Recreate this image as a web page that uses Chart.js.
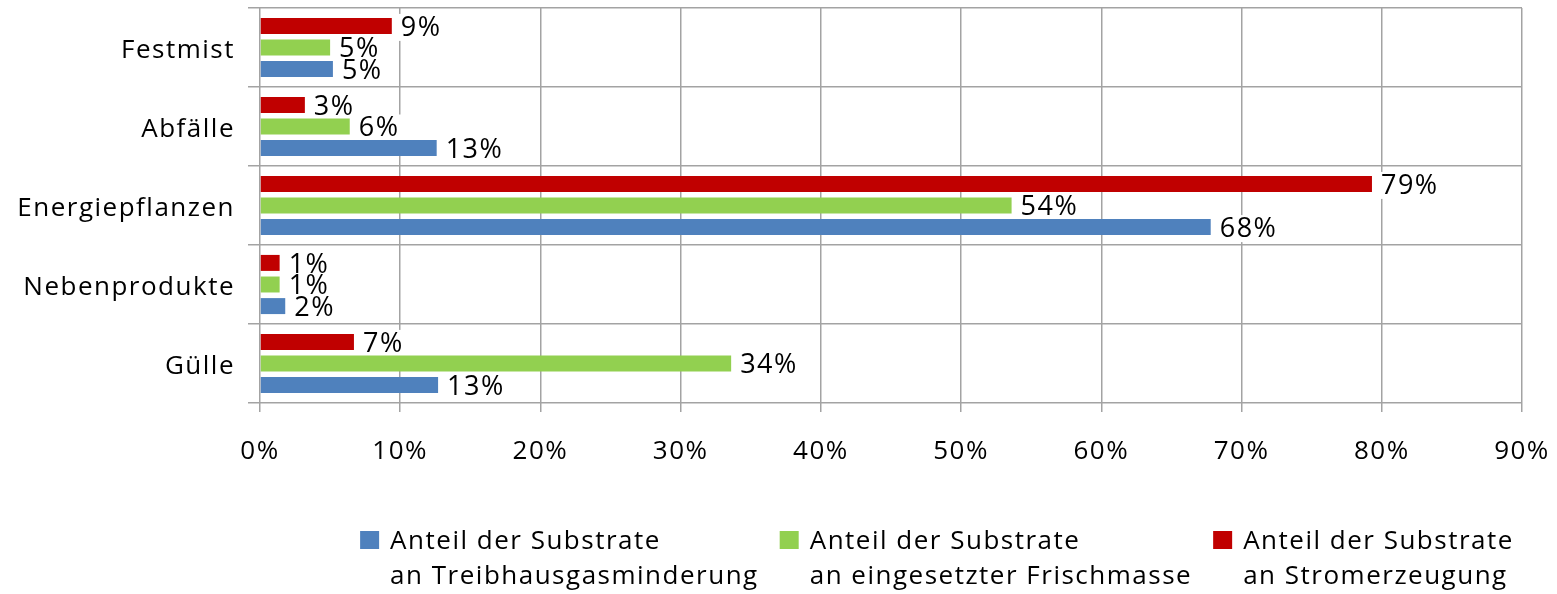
<!DOCTYPE html>
<html>
<head>
    <meta charset="utf-8">
    <title>Substrate Anteile</title>
    <script src="https://cdn.jsdelivr.net/npm/chart.js@4.4.1/dist/chart.umd.min.js"></script>
    <style>
        html, body {
            margin: 0;
            padding: 0;
            background: white;
        }
        .chart-wrapper {
            position: relative;
            width: 1557px;
            height: 594px;
        }
    </style>
</head>
<body>
    <div class="chart-wrapper">
        <canvas id="substrateChart"></canvas>
    </div>

    <script>
        // Categories, top to bottom
        const categories = ['Festmist', 'Abfälle', 'Energiepflanzen', 'Nebenprodukte', 'Gülle'];

        // Series values in percent
        const thgValues = [5.2, 12.6, 67.8, 1.8, 12.7];       // Treibhausgasminderung
        const frischValues = [5.0, 6.4, 53.6, 1.4, 33.6];     // eingesetzte Frischmasse
        const stromValues = [9.4, 3.2, 79.3, 1.4, 6.7];       // Stromerzeugung

        const seriesNames = [
            ['Anteil der Substrate', 'an Treibhausgasminderung'],
            ['Anteil der Substrate', 'an eingesetzter Frischmasse'],
            ['Anteil der Substrate', 'an Stromerzeugung']
        ];
        const seriesColors = ['#4F81BD', '#92D050', '#C00000'];

        const xMax = 90;
        const xStep = 10;

        const fontFamily = "'Open Sans', sans-serif";
        const fontSize = 26;
        const labelFont = '27px ' + fontFamily;
        const gridColor = '#a3a3a3';

        // slightly wider text, the original looks stretched
        const spacingPlugin = {
            id: 'spacing',
            beforeUpdate(chart) { chart.ctx.letterSpacing = '1.5px'; },
            beforeDraw(chart) { chart.ctx.letterSpacing = '1.5px'; }
        };

        function eachLabel(chart, fn) {
            chart.data.datasets.forEach((ds, i) => {
                chart.getDatasetMeta(i).data.forEach((bar, j) => {
                    fn(bar, Math.round(ds.data[j]) + '%');
                });
            });
        }

        // value labels: white box under the bars (hides grid), text on top
        const valueLabels = {
            id: 'valueLabels',
            beforeDatasetsDraw(chart) {
                const ctx = chart.ctx;
                ctx.save();
                ctx.font = labelFont;
                ctx.fillStyle = 'white';
                eachLabel(chart, (bar, text) => {
                    const w = ctx.measureText(text).width;
                    ctx.fillRect(bar.x + 5, bar.y - 12, w + 6, 27);
                });
                ctx.restore();
            },
            afterDatasetsDraw(chart) {
                const ctx = chart.ctx;
                ctx.save();
                ctx.font = labelFont;
                ctx.textBaseline = 'middle';
                ctx.textAlign = 'left';
                ctx.fillStyle = '#000';
                eachLabel(chart, (bar, text) => {
                    ctx.fillText(text, bar.x + 9, bar.y + 2);
                });
                ctx.restore();
            }
        };

        // legend below the chart, two lines per entry
        const bottomLegend = {
            id: 'bottomLegend',
            afterDraw(chart) {
                const ctx = chart.ctx;
                ctx.save();
                ctx.font = fontSize + 'px ' + fontFamily;
                ctx.textBaseline = 'middle';
                ctx.textAlign = 'left';
                const boxSize = 19;
                const boxGap = 11;
                const itemGap = 21;
                const widths = seriesNames.map(lines =>
                    Math.max(...lines.map(l => ctx.measureText(l).width)));
                const total = widths.reduce((a, b) => a + b, 0) + 3 * (boxSize + boxGap) + 2 * itemGap;
                let x = 937 - total / 2;
                const y1 = 542;
                const y2 = 577;
                seriesNames.forEach((lines, i) => {
                    ctx.fillStyle = seriesColors[i];
                    ctx.fillRect(x, y1 - 11, boxSize, 18);
                    ctx.fillStyle = '#000';
                    ctx.fillText(lines[0], x + boxSize + boxGap, y1);
                    ctx.fillText(lines[1], x + boxSize + boxGap, y2);
                    x += boxSize + boxGap + widths[i] + itemGap;
                });
                ctx.restore();
            }
        };

        new Chart(document.getElementById('substrateChart'), {
            type: 'bar',
            data: {
                labels: categories,
                datasets: [
                    { label: seriesNames[2].join(' '), data: stromValues, backgroundColor: seriesColors[2] },
                    { label: seriesNames[1].join(' '), data: frischValues, backgroundColor: seriesColors[1] },
                    { label: seriesNames[0].join(' '), data: thgValues, backgroundColor: seriesColors[0] }
                ]
            },
            options: {
                indexAxis: 'y',
                responsive: true,
                maintainAspectRatio: false,
                animation: false,
                categoryPercentage: 0.82,
                barPercentage: 0.74,
                layout: {
                    padding: { top: 8, right: 35, bottom: 121, left: 0 }
                },
                scales: {
                    x: {
                        min: 0,
                        max: xMax,
                        ticks: {
                            stepSize: xStep,
                            padding: 24,
                            color: '#000',
                            font: { family: fontFamily, size: fontSize },
                            callback: v => v + '%'
                        },
                        grid: {
                            color: gridColor,
                            lineWidth: 1.5,
                            tickLength: 9
                        },
                        border: { display: false },
                        afterFit(scale) {
                            scale.height = 70;
                            scale.paddingLeft = 0;
                            scale.paddingRight = 0;
                        }
                    },
                    y: {
                        ticks: {
                            padding: 13,
                            labelOffset: 3,
                            color: '#000',
                            font: { family: fontFamily, size: fontSize }
                        },
                        grid: {
                            color: gridColor,
                            lineWidth: 1.5,
                            tickLength: 12,
                            offset: true
                        },
                        border: { display: false },
                        afterFit(scale) {
                            scale.width = 260;
                            scale.paddingTop = 0;
                            scale.paddingBottom = 0;
                        }
                    }
                },
                plugins: {
                    legend: { display: false },
                    tooltip: { enabled: false }
                }
            },
            plugins: [spacingPlugin, valueLabels, bottomLegend]
        });
    </script>
</body>
</html>
